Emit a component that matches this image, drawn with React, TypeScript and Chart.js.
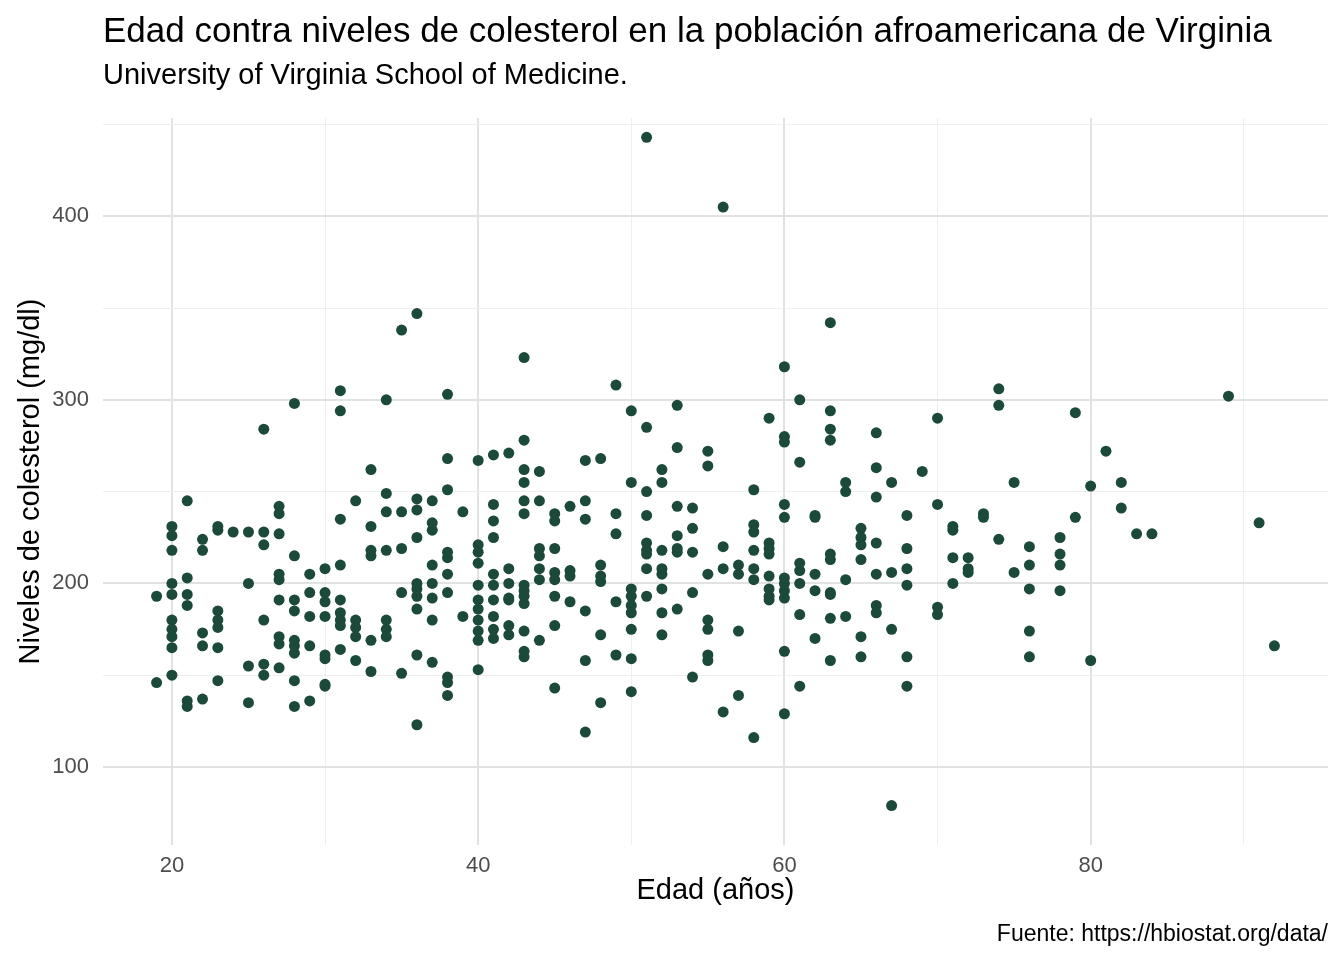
import React, { useRef, useEffect } from 'react';
import { Chart, registerables } from 'chart.js';

Chart.register(...registerables);

// ages (años) and the cholesterol readings seen at each age
const ages = [19, 20, 21, 22, 23, 24, 25, 26, 27, 28, 29, 30, 31, 32, 33, 34, 35, 36, 37, 38, 39, 40, 41, 42, 43, 44, 45, 46, 47, 48, 49, 50, 51, 52, 53, 54, 55, 56, 57, 58, 59, 60, 61, 62, 63, 64, 65, 66, 67, 68, 69, 70, 71, 72, 73, 74, 75, 76, 78, 79, 80, 81, 82, 83, 84, 89, 91, 92];
const cholByAge = [
  [193, 146],
  [231, 226, 218, 200, 194, 180, 175, 171, 165, 150],
  [245, 203, 194, 188, 136, 133],
  [224, 218, 173, 166, 137],
  [231, 229, 185, 180, 176, 165, 147],
  [228],
  [228, 200, 155, 135],
  [284, 228, 221, 180, 156, 150],
  [242, 238, 227, 205, 202, 191, 171, 167, 154],
  [298, 215, 191, 185, 169, 166, 162, 147, 133],
  [205, 195, 182, 166, 136],
  [208, 195, 190, 182, 161, 159, 145, 144],
  [305, 294, 235, 210, 191, 184, 180, 177, 164],
  [245, 180, 176, 171, 158],
  [262, 231, 218, 215, 169, 152],
  [300, 249, 239, 218, 180, 175, 171],
  [338, 239, 219, 195, 151],
  [347, 246, 240, 225, 200, 197, 193, 186, 161, 123],
  [245, 233, 229, 210, 200, 192, 180, 157],
  [303, 268, 251, 217, 214, 205, 195, 149, 146, 139],
  [239, 182],
  [267, 221, 217, 211, 199, 191, 186, 180, 174, 169, 153],
  [270, 243, 234, 225, 205, 199, 191, 182, 175, 170],
  [271, 208, 200, 192, 191, 177, 172],
  [323, 278, 262, 255, 245, 238, 199, 196, 193, 189, 174, 163, 160],
  [261, 245, 219, 215, 208, 202, 169],
  [238, 234, 219, 206, 202, 193, 177, 143],
  [242, 207, 204, 190],
  [267, 245, 235, 185, 158, 119],
  [268, 210, 204, 201, 172, 135],
  [308, 238, 227, 190, 161],
  [294, 255, 197, 193, 188, 184, 175, 159, 141],
  [443, 285, 250, 237, 222, 218, 216, 208, 193],
  [262, 255, 218, 208, 205, 197, 184, 172],
  [297, 274, 242, 226, 219, 217, 186],
  [241, 230, 217, 195, 149],
  [272, 264, 205, 180, 175, 161, 158],
  [405, 220, 208, 130],
  [210, 205, 174, 139],
  [251, 232, 228, 218, 208, 202, 116],
  [290, 222, 219, 216, 204, 197, 193, 191],
  [318, 280, 277, 243, 236, 203, 200, 196, 192, 163, 129],
  [300, 266, 211, 207, 200, 183, 144],
  [237, 236, 205, 196, 170],
  [342, 294, 284, 278, 216, 213, 195, 194, 181, 158],
  [255, 250, 202, 182],
  [230, 225, 221, 213, 171, 160],
  [282, 263, 247, 222, 205, 188, 184],
  [255, 206, 175, 79],
  [237, 219, 208, 199, 160, 144],
  [261],
  [290, 243, 187, 183],
  [231, 229, 214, 200],
  [214, 208, 206],
  [238, 236],
  [306, 297, 224],
  [255, 206],
  [220, 210, 197, 174, 160],
  [225, 216, 210, 196],
  [293, 236],
  [253, 158],
  [272],
  [255, 241],
  [227],
  [227],
  [302],
  [233],
  [166],
];

const xTicks = [20, 30, 40, 50, 60, 70, 80, 90];
const yTicks = [100, 150, 200, 250, 300, 350, 400, 450];

const title = 'Edad contra niveles de colesterol en la población afroamericana de Virginia';
const subtitle = 'University of Virginia School of Medicine.';
const caption = 'Fuente: https://hbiostat.org/data/';
const xTitle = 'Edad (años)';
const yTitle = 'Niveles de colesterol (mg/dl)';

const FONT = '"Liberation Sans", Arial, sans-serif';

const textPlugin = {
  id: 'texts',
  afterDraw(chart: any) {
    const { ctx, chartArea } = chart;
    ctx.save();
    ctx.fillStyle = '#000';
    ctx.textBaseline = 'alphabetic';
    ctx.textAlign = 'left';
    ctx.font = `35px ${FONT}`;
    ctx.fillText(title, chartArea.left, 42);
    ctx.font = `29px ${FONT}`;
    ctx.fillText(subtitle, chartArea.left, 84);
    ctx.textAlign = 'right';
    ctx.font = `23px ${FONT}`;
    ctx.fillText(caption, chart.width - 16, 941);
    ctx.restore();
  },
};

const App: React.FC = () => {
  const canvasRef = useRef<HTMLCanvasElement>(null);
  const chartRef = useRef<Chart | null>(null);

  useEffect(() => {
    document.body.style.margin = '0';
    if (!canvasRef.current) return;
    const points = ages.flatMap((a, i) => cholByAge[i].map((c) => ({ x: a, y: c })));
    const grid = {
      color: (c: any) => (c.tick && c.tick.major ? '#e2e2e2' : '#efefef'),
      lineWidth: (c: any) => (c.tick && c.tick.major ? 2 : 1),
      drawTicks: false,
    };
    chartRef.current = new Chart(canvasRef.current, {
      type: 'scatter',
      data: {
        datasets: [{
          data: points,
          backgroundColor: '#1c4a3a',
          borderColor: '#1c4a3a',
          pointRadius: 5.5,
          borderWidth: 0,
        }],
      },
      options: {
        animation: false,
        responsive: false,
        layout: { padding: { top: 118, left: 10, right: 16, bottom: 48 } },
        plugins: { legend: { display: false }, tooltip: { enabled: false } },
        scales: {
          x: {
            type: 'linear',
            min: 15.5,
            max: 95.5,
            border: { display: false },
            grid,
            afterFit: (s: any) => { s.height = 67; },
            afterBuildTicks: (s: any) => { s.ticks = xTicks.map((v) => ({ value: v, major: v % 20 === 0 })); },
            ticks: {
              autoSkip: false,
              maxRotation: 0,
              padding: 8,
              color: '#4d4d4d',
              font: { family: FONT, size: 22 },
              callback: (v: any) => (v % 20 === 0 ? String(v) : ''),
            },
            title: { display: true, text: xTitle, color: '#000', font: { family: FONT, size: 29 }, padding: { top: 2 } },
          },
          y: {
            type: 'linear',
            min: 57.5,
            max: 453.5,
            border: { display: false },
            grid,
            afterFit: (s: any) => { s.width = 93; },
            afterBuildTicks: (s: any) => { s.ticks = yTicks.map((v) => ({ value: v, major: v % 100 === 0 })); },
            ticks: {
              autoSkip: false,
              padding: 14,
              color: '#4d4d4d',
              font: { family: FONT, size: 22 },
              callback: (v: any) => (v % 100 === 0 ? String(v) : ''),
            },
            title: { display: true, text: yTitle, color: '#000', font: { family: FONT, size: 29 }, padding: { bottom: 2 } },
          },
        },
      },
      plugins: [textPlugin],
    });
    return () => {
      chartRef.current?.destroy();
      chartRef.current = null;
    };
  }, []);

  return (
    <div style={{ width: 1344, height: 960, background: '#fff' }}>
      <canvas ref={canvasRef} width={1344} height={960} style={{ width: 1344, height: 960 }} />
    </div>
  );
};

export default App;
